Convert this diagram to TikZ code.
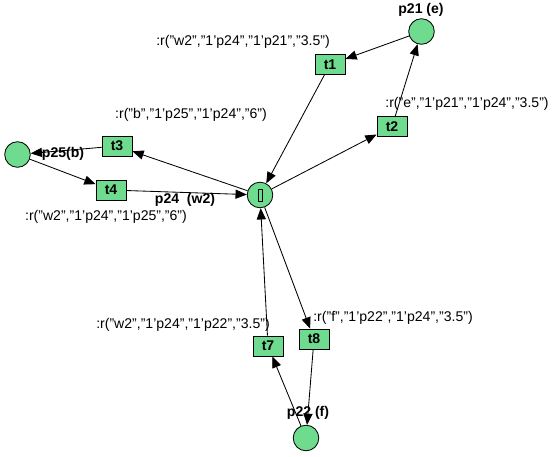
\documentclass[tikz,border=0pt]{standalone}
\usepackage{fontspec}
\setmainfont{Liberation Sans}
\usetikzlibrary{arrows.meta}
\definecolor{netgreen}{RGB}{111,219,143}
\tikzset{
  place/.style={circle, draw, fill=netgreen, line width=0.6pt, minimum size=0.64cm, inner sep=0pt},
  trans/.style={rectangle, draw, fill=netgreen, line width=0.6pt, minimum width=0.75cm, minimum height=0.5cm, inner sep=0pt, font=\fontsize{10}{12}\selectfont\bfseries},
  pname/.style={font=\fontsize{10}{12}\selectfont\bfseries},
  arc/.style={line width=0.6pt, -{Triangle[length=8pt,width=6.5pt]}}
}
\begin{document}
\begin{tikzpicture}[x=0.025cm, y=-0.025cm, every node/.style={font=\fontsize{10}{12}\selectfont}]
  \useasboundingbox (0,0) rectangle (558,456);
  \node[place] (p21) at (421.5,31.5) {};
  \node[place] (p25) at (17.5,154.5) {};
  \node[place] (p24) at (260,195) {};
  \node[place] (p22) at (306,438) {};
  \node[draw, line width=0.5pt, minimum width=0.1cm, minimum height=0.3cm, inner sep=0pt] (glyph) at (260,195) {};
  \node[trans] (t1) at (330,64.5) {t1};
  \node[trans] (t2) at (392,126.5) {t2};
  \node[trans] (t3) at (117,146) {t3};
  \node[trans] (t4) at (111,190) {t4};
  \node[trans] (t7) at (268,346) {t7};
  \node[trans] (t8) at (314,339) {t8};
  \draw[arc] (p21)--(t1);
  \draw[arc] (t1)--(p24);
  \draw[arc] (p24)--(t2);
  \draw[arc] (t2)--(p21);
  \draw[arc] (p24)--(t3);
  \draw[arc] (t3)--(p25);
  \draw[arc] (p25)--(t4);
  \draw[arc] (t4)--(p24);
  \draw[arc] (p24)--(t8);
  \draw[arc] (t8)--(p22);
  \draw[arc] (p22)--(t7);
  \draw[arc] (t7)--(p24);
  \node[pname] (lp21) at (421,10) {p21 (e)};
  \node[pname] (lp25) at (63,154) {p25(b)};
  \node[pname] (lp24) at (185,200) {p24\ \ (w2)};
  \node[pname] (lp22) at (308,413) {p22 (f)};
  \node (lt1) at (243,42) {:r("w2","1'p24","1'p21","3.5")};
  \node (lt2) at (467,104) {:r("e","1'p21","1'p24","3.5")};
  \node (lt3) at (191,115) {:r("b","1'p25","1'p24","6")};
  \node (lt4) at (106,217) {:r("w2","1'p24","1'p25","6")};
  \node (lt7) at (183,325) {:r("w2","1'p24","1'p22","3.5")};
  \node (lt8) at (393,318) {:r("f","1'p22","1'p24","3.5")};
\end{tikzpicture}
\end{document}
